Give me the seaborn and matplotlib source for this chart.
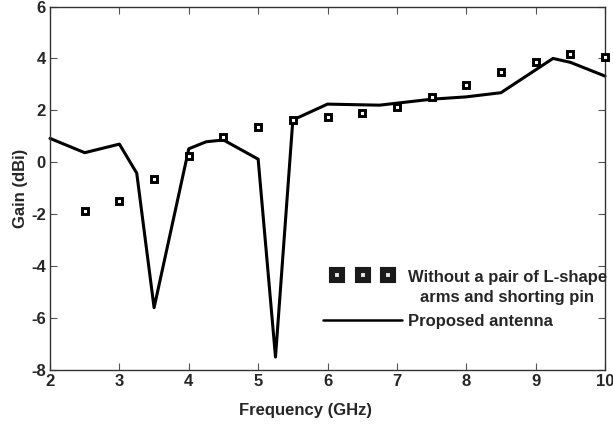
import matplotlib
matplotlib.use("Agg")
import matplotlib.pyplot as plt
import seaborn as sns
import pandas as pd
import numpy as np
from matplotlib.lines import Line2D
from matplotlib.legend_handler import HandlerLine2D

sns.set_theme(style="white")
plt.rcParams['font.family'] = ['Liberation Sans', 'DejaVu Sans']
plt.rcParams['font.weight'] = 'bold'

# Proposed antenna (solid line)
freq_prop = [2.0, 2.5, 3.0, 3.25, 3.5, 4.0, 4.25, 4.5, 5.0, 5.25, 5.5, 6.0, 6.75, 7.5, 8.0, 8.5, 9.25, 9.5, 10.0]
gain_prop = [0.92, 0.37, 0.70, -0.42, -5.6, 0.52, 0.79, 0.86, 0.12, -7.5, 1.63, 2.24, 2.2, 2.43, 2.52, 2.68, 4.0, 3.85, 3.32]

# Without a pair of L-shape arms and shorting pin (square markers)
freq_wo = [2.5, 3.0, 3.5, 4.0, 4.5, 5.0, 5.5, 6.0, 6.5, 7.0, 7.5, 8.0, 8.5, 9.0, 9.5, 10.0]
gain_wo = [-1.86, -1.48, -0.64, 0.24, 0.96, 1.37, 1.63, 1.75, 1.88, 2.14, 2.52, 2.97, 3.48, 3.87, 4.17, 4.06]

x_ticks = [2, 3, 4, 5, 6, 7, 8, 9, 10]
y_ticks = [-8, -6, -4, -2, 0, 2, 4, 6]

df_prop = pd.DataFrame({"f": freq_prop, "g": gain_prop})
df_wo = pd.DataFrame({"f": freq_wo, "g": gain_wo})


class TopMarkerHandler(HandlerLine2D):
    """Places the legend markers level with the first text line."""
    def __init__(self, yshift=0.0, **kw):
        super().__init__(**kw)
        self.yshift = yshift

    def create_artists(self, legend, orig_handle, xdescent, ydescent,
                       width, height, fontsize, trans):
        arts = super().create_artists(legend, orig_handle, xdescent, ydescent,
                                      width, height, fontsize, trans)
        for a in arts:
            a.set_ydata(np.asarray(a.get_ydata()) + self.yshift)
        return arts


fig = plt.figure(figsize=(6.13, 4.25), dpi=100)
ax = fig.add_axes([0.0816, 0.1294, 0.9054, 0.8553])

sns.lineplot(data=df_prop, x="f", y="g", ax=ax, color="black", linewidth=2.2,
             sort=False, estimator=None, clip_on=False)
ax.plot(df_wo["f"], df_wo["g"], linestyle="none", marker="s", markersize=4.4,
        markerfacecolor="white", markeredgecolor="black", markeredgewidth=2.1,
        clip_on=False, zorder=3)

ax.set_xlim(2, 10)
ax.set_ylim(-8, 6)
ax.set_xticks(x_ticks)
ax.set_yticks(y_ticks)
ax.set_xticklabels([str(t) for t in x_ticks], fontsize=12, fontweight="bold")
ax.set_yticklabels([str(t) for t in y_ticks], fontsize=12, fontweight="bold")
ax.set_xlabel("Frequency (GHz)", fontsize=12, fontweight="bold")
ax.set_ylabel("Gain (dBi)", fontsize=12, fontweight="bold")
ax.xaxis.set_label_coords(0.46, -0.09)
ax.yaxis.set_label_coords(-0.04, 0.5)

ax.tick_params(direction="in", length=5, width=0.8, color="#555555",
               top=True, right=True, left=True, bottom=True, pad=3)
for s in ax.spines.values():
    s.set_color("#333333")
    s.set_linewidth(1.0)

h1 = Line2D([], [], linestyle="none", marker="s", markersize=7,
            markerfacecolor="#dde8f0", markeredgecolor="#1a1a1a", markeredgewidth=4.4)
h2 = Line2D([], [], color="black", linewidth=1.8)
leg = ax.legend([h1, h2],
                ["Without a pair of L-shape\narms and shorting pin", "Proposed antenna"],
                loc="lower right", bbox_to_anchor=(1.015, 0.095), frameon=False,
                numpoints=3, handlelength=5.3, handletextpad=0.05,
                prop={"weight": "bold", "size": 12}, labelspacing=0.5,
                borderaxespad=0.0,
                handler_map={h1: TopMarkerHandler(yshift=9.0, marker_pad=1.1)})
for t in leg.get_texts():
    t.set_multialignment("center")
    t.set_linespacing(1.45)

fig.savefig("out.png", dpi=100)
